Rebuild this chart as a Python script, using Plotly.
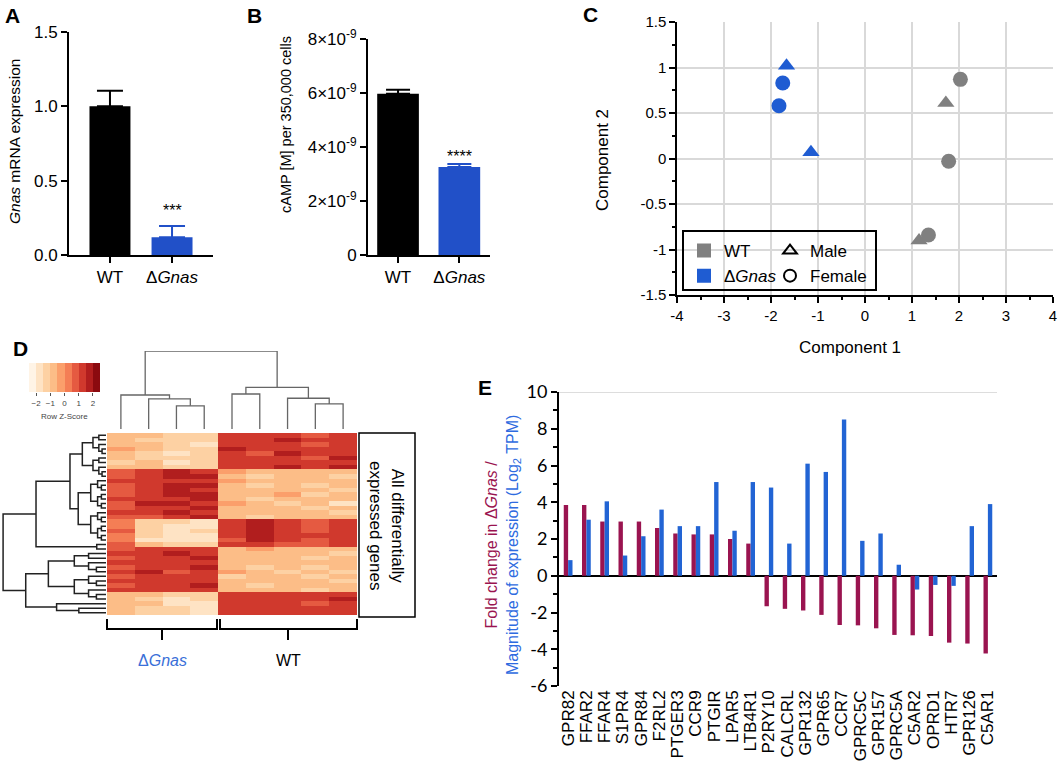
import plotly.graph_objects as go

W, H = 1059, 771
FONT = "Liberation Sans, Arial, sans-serif"
GREY = "#808080"
BLUE = "#1F5CD2"
CRIMSON = "#9A1450"


def fx(p):
    return p / W


def fy(p):
    return 1 - p / H


# ---------------- A: Gnas mRNA expression
a_groups = ["WT", "Δ<i>Gnas</i>"]
a_mean = [1.0, 0.12]
a_err = [0.105, 0.075]
a_colors = ["#000000", "#2150C8"]
a_ticks = [0, 0.5, 1.0, 1.5]
a_ticktext = ["0.0", "0.5", "1.0", "1.5"]

# ---------------- B: cAMP
b_mean = [5.97e-9, 3.26e-9]
b_err = [0.15e-9, 0.11e-9]
b_ticks = [0, 2e-9, 4e-9, 6e-9, 8e-9]
b_ticktext = ["0", "2×10<sup>-9</sup>", "4×10<sup>-9</sup>",
              "6×10<sup>-9</sup>", "8×10<sup>-9</sup>"]

# ---------------- C: PCA
c_wt_female_x = [2.03, 1.78, 1.35]
c_wt_female_y = [0.87, -0.03, -0.84]
c_wt_male_x = [1.72, 1.15]
c_wt_male_y = [0.61, -0.90]
c_ko_female_x = [-1.75, -1.83]
c_ko_female_y = [0.83, 0.58]
c_ko_male_x = [-1.67, -1.15]
c_ko_male_y = [1.02, 0.07]
c_xticks = [-4, -3, -2, -1, 0, 1, 2, 3, 4]
c_yticks = [-1.5, -1, -0.5, 0, 0.5, 1, 1.5]
c_xminor = [-3.5, -2.5, -1.5, -0.5, 0.5, 1.5, 2.5, 3.5]
c_yminor = [-1.25, -0.75, -0.25, 0.25, 0.75, 1.25]

# ---------------- D: heatmap (4 dGnas columns, 5 WT columns)
d_rows = [
    [-0.6, -0.9, -1.3, -1.2, 1.2, 1.0, 1.3, 0.9, 1.1],
    [-0.8, -1.1, -1.5, -1.4, 1.4, 1.2, 1.5, 1.1, 1.4],
    [-1.0, -0.7, -1.2, -1.6, 1.0, 1.3, 1.2, 0.8, 1.0],
    [-0.5, -1.0, -1.4, -1.1, 1.5, 1.1, 1.4, 1.0, 1.2],
    [-0.9, -1.3, -1.7, -1.3, 1.1, 0.9, 1.6, 1.2, 1.3],
    [-0.7, -1.2, -1.1, -1.5, 1.3, 1.4, 1.1, 0.9, 1.5],
    [-1.1, -0.8, -1.6, -1.2, 1.2, 1.0, 1.3, 1.3, 1.1],
    [-0.6, -1.0, -1.3, -1.4, 1.4, 1.2, 1.5, 1.0, 1.6],
    [0.8, 1.2, 1.5, 1.4, -0.5, -0.9, -0.7, -1.0, -0.8],
    [0.6, 1.0, 1.7, 1.6, -0.8, -1.1, -0.6, -0.9, -1.2],
    [1.0, 1.3, 1.4, 1.2, -0.4, -0.8, -1.0, -0.7, -0.9],
    [0.7, 1.1, 1.8, 1.7, -0.9, -1.2, -0.8, -1.1, -0.7],
    [0.9, 1.4, 1.5, 1.3, -0.6, -0.7, -0.9, -0.8, -1.1],
    [0.5, 1.2, 1.6, 1.8, -1.0, -0.9, -0.5, -1.2, -0.8],
    [1.1, 1.0, 1.3, 1.5, -0.7, -1.3, -0.8, -0.6, -1.0],
    [0.8, 1.5, 1.7, 1.4, -0.5, -0.8, -1.1, -0.9, -1.6],
    [0.6, 1.3, 1.4, 1.6, -0.9, -1.0, -0.7, -1.3, -0.8],
    [1.0, 1.1, 1.6, 1.3, -0.8, -0.6, -0.9, -1.0, -1.1],
    [0.7, 0.9, 1.2, 1.5, -0.6, -1.1, -1.0, -0.7, -0.9],
    [0.4, -1.3, -1.5, -1.6, 1.2, 1.5, 1.0, 0.8, 1.1],
    [0.2, -1.5, -1.8, -1.7, 1.0, 1.8, 1.2, 0.9, 1.3],
    [0.5, -1.2, -1.6, -1.5, 1.3, 1.7, 1.1, 0.7, 1.2],
    [0.3, -1.4, -1.9, -1.6, 1.1, 1.6, 1.3, 1.0, 1.4],
    [0.1, -1.6, -1.7, -1.8, 0.9, 1.9, 1.0, 0.8, 1.0],
    [0.6, -0.9, -1.2, -1.3, 1.0, 1.2, 0.9, 0.6, 1.1],
    [0.8, 1.0, 1.3, 1.2, -0.7, -0.5, -0.6, -0.9, -0.6],
    [1.2, 1.1, 1.5, 1.4, -0.9, -1.0, -0.8, -0.7, -1.1],
    [0.9, 1.3, 1.2, 1.6, -0.6, -0.8, -1.0, -1.2, -0.7],
    [1.1, 1.4, 1.1, 1.3, -1.0, -0.7, -0.9, -0.8, -1.0],
    [0.7, 1.2, 1.4, 1.5, -0.8, -1.1, -0.7, -1.3, -0.9],
    [1.0, 1.5, 0.9, 1.2, -0.5, -0.9, -1.1, -0.8, -1.2],
    [0.8, 1.3, 1.2, 1.4, -1.1, -0.8, -0.6, -1.5, -0.8],
    [1.3, 1.0, 1.4, 1.1, -0.7, -1.0, -0.9, -0.9, -1.3],
    [0.9, 1.4, 1.3, 1.5, -0.9, -1.2, -0.8, -1.0, -0.7],
    [1.1, 1.2, 1.0, 1.3, -0.8, -0.7, -1.0, -1.1, -0.9],
    [-0.8, -1.0, -1.3, -1.5, 1.2, 1.3, 1.0, 1.1, 1.3],
    [-1.0, -1.2, -1.6, -1.4, 1.4, 1.1, 1.3, 1.2, 1.5],
    [-0.7, -0.9, -1.8, -1.7, 1.1, 1.4, 1.2, 0.9, 1.2],
    [-0.9, -1.3, -1.4, -1.9, 1.3, 1.2, 1.4, 1.3, 1.4],
    [-0.6, -1.1, -1.5, -1.6, 1.0, 1.3, 1.1, 1.0, 1.2],
]
# column clustering (height, left, right); leaves are column indices
col_tree = (10.0,
            (4.36, 0, (3.86, 1, (2.97, 2, 3))),
            (5.34, (4.49, 4, 5), (3.94, 6, (3.22, 7, 8))))
# row clustering; ("blk", first, last, height) = block of similar rows
row_tree = (10.0,
            (6.8,
             (3.5, ("blk", 0, 9, 2.3), ("blk", 10, 23, 2.7)),
             ("blk", 24, 25, 0.9)),
            (7.8, ("blk", 26, 36, 5.6), ("blk", 37, 39, 4.8)))
key_vals = [-2.25, -1.75, -1.25, -0.75, -0.25, 0.25, 0.75, 1.25, 1.75, 2.25]
heat_colors = ["#FFF4E6", "#FEE3C4", "#FDD1A3", "#FCBD87", "#FB9F6B",
               "#F47E55", "#E55A41", "#D0392D", "#B11E1E", "#8B0A0F"]

# ---------------- E: GPCRs
e_genes = ["GPR82", "FFAR2", "FFAR4", "S1PR4", "GPR84", "F2RL2", "PTGER3",
           "CCR9", "PTGIR", "LPAR5", "LTB4R1", "P2RY10", "CALCRL", "GPR132",
           "GPR65", "CCR7", "GPRC5C", "GPR157", "GPRC5A", "C5AR2", "OPRD1",
           "HTR7", "GPR126", "C5AR1"]
e_fold = [3.85, 3.85, 2.95, 2.95, 2.95, 2.6, 2.3, 2.25, 2.25, 2.0, 1.75,
          -1.66, -1.8, -1.89, -2.13, -2.68, -2.7, -2.86, -3.22, -3.24, -3.28,
          -3.64, -3.69, -4.23]
e_expr = [0.85, 3.05, 4.05, 1.1, 2.15, 3.6, 2.7, 2.7, 5.1, 2.45, 5.1, 4.8,
          1.75, 6.1, 5.65, 8.5, 1.9, 2.3, 0.6, -0.75, -0.5, -0.55, 2.7, 3.9]
e_ticks = [-6, -4, -2, 0, 2, 4, 6, 8, 10]
e_minor = [-5, -3, -1, 1, 3, 5, 7, 9]


def balanced(rows, top):
    if len(rows) == 1:
        return rows[0]
    mid = len(rows) // 2
    return (top, balanced(rows[:mid], top * 0.55), balanced(rows[mid:], top * 0.55))


def walk(node, segs):
    if isinstance(node, int):
        return float(node), 0.0
    if isinstance(node[0], str):
        return walk(balanced(list(range(node[1], node[2] + 1)), node[3]), segs)
    h, left, right = node
    pl, hl = walk(left, segs)
    pr, hr = walk(right, segs)
    segs.append([(pl, hl), (pl, h), (pr, h), (pr, hr)])
    return (pl + pr) / 2, h


fig = go.Figure()

# A bars
for i in range(2):
    fig.add_trace(go.Bar(
        x=[i], y=[a_mean[i]], width=0.66, offset=-0.33, marker_color=a_colors[i],
        marker_line_width=0, showlegend=False, xaxis="x", yaxis="y",
        error_y=dict(type="data", array=[a_err[i]], arrayminus=[0], symmetric=False,
                     color=a_colors[i], thickness=2, width=13)))

# B bars
for i in range(2):
    fig.add_trace(go.Bar(
        x=[i], y=[b_mean[i]], width=0.68, offset=-0.34, marker_color=a_colors[i],
        marker_line_width=0, showlegend=False, xaxis="x2", yaxis="y2",
        error_y=dict(type="data", array=[b_err[i]], arrayminus=[0], symmetric=False,
                     color=a_colors[i], thickness=2, width=12)))

# C scatter
for xs, ys, sym, col in [(c_wt_female_x, c_wt_female_y, "circle", GREY),
                         (c_wt_male_x, c_wt_male_y, "triangle-up", GREY),
                         (c_ko_female_x, c_ko_female_y, "circle", BLUE),
                         (c_ko_male_x, c_ko_male_y, "triangle-up", BLUE)]:
    fig.add_trace(go.Scatter(x=xs, y=ys, mode="markers", showlegend=False,
                             marker=dict(symbol=sym, size=15, color=col),
                             xaxis="x3", yaxis="y3"))

# C legend entries
for name, sym, col, lg in [("WT", "square", GREY, "legend"),
                           ("Δ<i>Gnas</i>", "square", BLUE, "legend"),
                           ("Male", "triangle-up-open", "black", "legend2"),
                           ("Female", "circle-open", "black", "legend2")]:
    fig.add_trace(go.Scatter(x=[None], y=[None], mode="markers", name=name, legend=lg,
                             marker=dict(symbol=sym, size=16, color=col,
                                         line=dict(width=2.5, color=col)),
                             xaxis="x3", yaxis="y3"))

# D dendrograms
segs = []
walk(col_tree, segs)
dx, dy = [], []
for s in segs:
    dx += [p[0] for p in s] + [None]
    dy += [p[1] for p in s] + [None]
fig.add_trace(go.Scatter(x=dx, y=dy, mode="lines", line=dict(color="#666666", width=1.3),
                         showlegend=False, hoverinfo="skip", xaxis="x4", yaxis="y4"))

segs = []
walk(row_tree, segs)
rx, ry = [], []
for s in segs:
    rx += [p[1] for p in s] + [None]
    ry += [p[0] for p in s] + [None]
fig.add_trace(go.Scatter(x=rx, y=ry, mode="lines", line=dict(color="#222222", width=1.5),
                         showlegend=False, hoverinfo="skip", xaxis="x5", yaxis="y5"))

scale = []
for i, c in enumerate(heat_colors):
    scale.append([i / len(heat_colors), c])
    scale.append([(i + 1) / len(heat_colors), c])

fig.add_trace(go.Heatmap(z=d_rows, x=list(range(9)), y=list(range(len(d_rows))),
                         colorscale=scale, zmin=-2.5, zmax=2.5, showscale=False,
                         xaxis="x6", yaxis="y6"))
fig.add_trace(go.Heatmap(z=[key_vals], x=key_vals, y=[0], colorscale=scale,
                         zmin=-2.5, zmax=2.5, showscale=False, xaxis="x7", yaxis="y7"))

# E bars
fig.add_trace(go.Bar(x=list(range(len(e_genes))), y=e_fold, width=0.24, offset=-0.24,
                     marker_color=CRIMSON, marker_line_width=0, showlegend=False,
                     xaxis="x8", yaxis="y8"))
fig.add_trace(go.Bar(x=list(range(len(e_genes))), y=e_expr, width=0.24, offset=0,
                     marker_color="#2264D4", marker_line_width=0, showlegend=False,
                     xaxis="x8", yaxis="y8"))

ax_black = dict(showline=True, linecolor="black", linewidth=2, ticks="outside",
                ticklen=6, tickwidth=2, tickcolor="black", showgrid=False,
                zeroline=False, automargin=False, tickfont=dict(size=17, color="black"))
hidden = dict(visible=False, showgrid=False, zeroline=False, automargin=False)

layout = dict(
    template="none",
    width=W, height=H, margin=dict(l=0, r=0, t=0, b=0, autoexpand=False),
    paper_bgcolor="white", plot_bgcolor="rgba(0,0,0,0)",
    font=dict(family=FONT, color="black", size=16),
    barmode="overlay",
    xaxis=dict(ax_black, domain=[fx(69), fx(213)], range=[-0.66, 1.66],
               tickmode="array", tickvals=[0, 1], ticktext=a_groups, anchor="y"),
    yaxis=dict(ax_black, domain=[fy(255), fy(32)], range=[0, 1.5],
               tickmode="array", tickvals=a_ticks, ticktext=a_ticktext, anchor="x"),
    xaxis2=dict(ax_black, domain=[fx(368), fx(490)], range=[-0.49, 1.5],
                tickmode="array", tickvals=[0, 1], ticktext=a_groups, anchor="y2"),
    yaxis2=dict(ax_black, domain=[fy(255), fy(39)], range=[0, 8e-9],
                tickmode="array", tickvals=b_ticks, ticktext=b_ticktext, anchor="x2",
                tickfont=dict(size=17)),
    xaxis3=dict(domain=[fx(677), fx(1053)], range=[-4, 4], anchor="y3", automargin=False,
                tickmode="array", tickvals=c_xticks, ticktext=[f"{v:g}" for v in c_xticks],
                showgrid=True, gridcolor="#D9D9D9", gridwidth=1.5, zeroline=False,
                showline=True, linecolor="black", linewidth=1.5, ticks="outside",
                ticklen=6, tickwidth=1.5, tickcolor="black", tickfont=dict(size=15),
                minor=dict(tickvals=c_xminor, ticks="outside", ticklen=3, tickwidth=1.5,
                           showgrid=False, tickcolor="black")),
    yaxis3=dict(domain=[fy(295), fy(22)], range=[-1.5, 1.5], anchor="x3", automargin=False,
                tickmode="array", tickvals=c_yticks, ticktext=[f"{v:g}" for v in c_yticks],
                showgrid=True, gridcolor="#D9D9D9", gridwidth=1.5, zeroline=False,
                showline=True, linecolor="black", linewidth=1.5, ticks="outside",
                ticklen=6, tickwidth=1.5, tickcolor="black", tickfont=dict(size=15),
                minor=dict(tickvals=c_yminor, ticks="outside", ticklen=3, tickwidth=1.5,
                           showgrid=False, tickcolor="black")),
    xaxis4=dict(hidden, domain=[fx(107), fx(357)], range=[-0.5, 8.5], anchor="y4"),
    yaxis4=dict(hidden, domain=[fy(429), fy(351)], range=[0, 10], anchor="x4"),
    xaxis5=dict(hidden, domain=[0, fx(106)], range=[10.3, 0], anchor="y5"),
    yaxis5=dict(hidden, domain=[fy(615), fy(433)], range=[len(d_rows) - 0.5, -0.5], anchor="x5"),
    xaxis6=dict(hidden, domain=[fx(107), fx(357)], range=[-0.5, 8.5], anchor="y6"),
    yaxis6=dict(hidden, domain=[fy(615), fy(433)], range=[len(d_rows) - 0.5, -0.5], anchor="x6"),
    xaxis7=dict(domain=[fx(29), fx(100)], range=[-2.5, 2.5], anchor="y7", automargin=False,
                tickmode="array", tickvals=[-2, -1, 0, 1, 2], ticks="outside",
                ticklen=3, tickcolor="#555", tickfont=dict(size=8, color="#444"),
                showgrid=False, zeroline=False, showline=False),
    yaxis7=dict(hidden, domain=[fy(392), fy(363)], range=[-0.5, 0.5], anchor="x7"),
    xaxis8=dict(domain=[fx(559), fx(997)], range=[-0.5, len(e_genes) - 0.5], anchor="y8",
                automargin=False,
                tickmode="array", tickvals=list(range(len(e_genes))), ticktext=e_genes,
                tickangle=-90, ticks="", showline=False, showgrid=False, zeroline=False,
                tickfont=dict(size=17)),
    yaxis8=dict(domain=[fy(686), fy(392)], range=[-6, 10], anchor="x8", automargin=False,
                tickmode="array", tickvals=e_ticks, ticktext=[str(v) for v in e_ticks],
                showline=True, linecolor="black", linewidth=2, ticks="outside",
                ticklen=6, tickwidth=2, tickcolor="black", showgrid=False, zeroline=True,
                zerolinecolor="black", zerolinewidth=2,
                tickfont=dict(family="Lato, sans-serif", size=18),
                minor=dict(tickvals=e_minor, ticks="outside", ticklen=4, tickwidth=2,
                           tickcolor="black", showgrid=False)),
    legend=dict(x=fx(684), y=fy(233), xanchor="left", yanchor="top",
                bgcolor="rgba(0,0,0,0)", font=dict(size=17), itemsizing="constant",
                tracegroupgap=0),
    legend2=dict(x=fx(770), y=fy(233), xanchor="left", yanchor="top",
                 bgcolor="rgba(0,0,0,0)", font=dict(size=17), itemsizing="constant",
                 tracegroupgap=0),
)

ann = []
for txt, x, y in [("A", 12, 15), ("B", 254, 15), ("C", 590, 14), ("D", 20, 349), ("E", 485, 387)]:
    ann.append(dict(text=f"<b>{txt}</b>", x=fx(x), y=fy(y), font=dict(size=21)))
ann += [
    dict(text="<i>Gnas</i> mRNA expression", x=fx(14), y=fy(142), textangle=-90,
         font=dict(size=15.5)),
    dict(text="cAMP [M] per 350,000 cells", x=fx(286), y=fy(125), textangle=-90,
         font=dict(size=14.5)),
    dict(text="Component 2", x=fx(602), y=fy(160), textangle=-90, font=dict(size=17)),
    dict(text="Component 1", x=fx(850), y=fy(348), font=dict(size=17)),
    dict(text="All differentially<br>expressed genes", x=fx(387), y=fy(525), textangle=90,
         font=dict(size=17)),
    dict(text="Δ<i>Gnas</i>", x=fx(162), y=fy(660), font=dict(size=16, color="#3A6FD8")),
    dict(text="WT", x=fx(288), y=fy(660), font=dict(size=16)),
    dict(text="Row Z-Score", x=fx(64), y=fy(416), font=dict(size=8, color="#444")),
    dict(text="<span style='color:#9A1450'>Fold change in Δ<i>Gnas</i> /</span><br>"
              "<span style='color:#2E6BE0'>Magnitude of expression (Log<sub>2</sub> TPM)</span>",
         x=fx(503), y=fy(545), textangle=-90, font=dict(size=16)),
]
for a in ann:
    a.update(xref="paper", yref="paper", showarrow=False, xanchor="center", yanchor="middle")
ann += [
    dict(text="***", x=1, y=0.3, xref="x", yref="y", showarrow=False, font=dict(size=16)),
    dict(text="****", x=1, y=3.65e-9, xref="x2", yref="y2", showarrow=False, font=dict(size=16)),
]
layout["annotations"] = ann


def bracket(x0, x1, xc):
    return (f"M {fx(x0)},{fy(619)} L {fx(x0)},{fy(629)} L {fx(x1)},{fy(629)} "
            f"L {fx(x1)},{fy(619)} M {fx(xc)},{fy(629)} L {fx(xc)},{fy(640)}")


layout["shapes"] = [
    dict(type="rect", xref="paper", yref="paper", x0=fx(683), x1=fx(876),
         y0=fy(290), y1=fy(231), line=dict(color="black", width=2)),
    dict(type="rect", xref="paper", yref="paper", x0=fx(359), x1=fx(415),
         y0=fy(617), y1=fy(433), line=dict(color="black", width=1.5)),
    dict(type="path", xref="paper", yref="paper", path=bracket(107, 217, 162),
         line=dict(color="black", width=2)),
    dict(type="path", xref="paper", yref="paper", path=bracket(220, 357, 288),
         line=dict(color="black", width=2)),
    dict(type="line", xref="x8 domain", yref="y8", x0=0, x1=1, y0=10, y1=10,
         line=dict(color="#BBBBBB", width=1)),
]

fig.update_layout(layout)
fig.write_html("out.html", config={"displayModeBar": False},
               post_script="document.body.style.margin='0';document.body.style.overflow='hidden';")
